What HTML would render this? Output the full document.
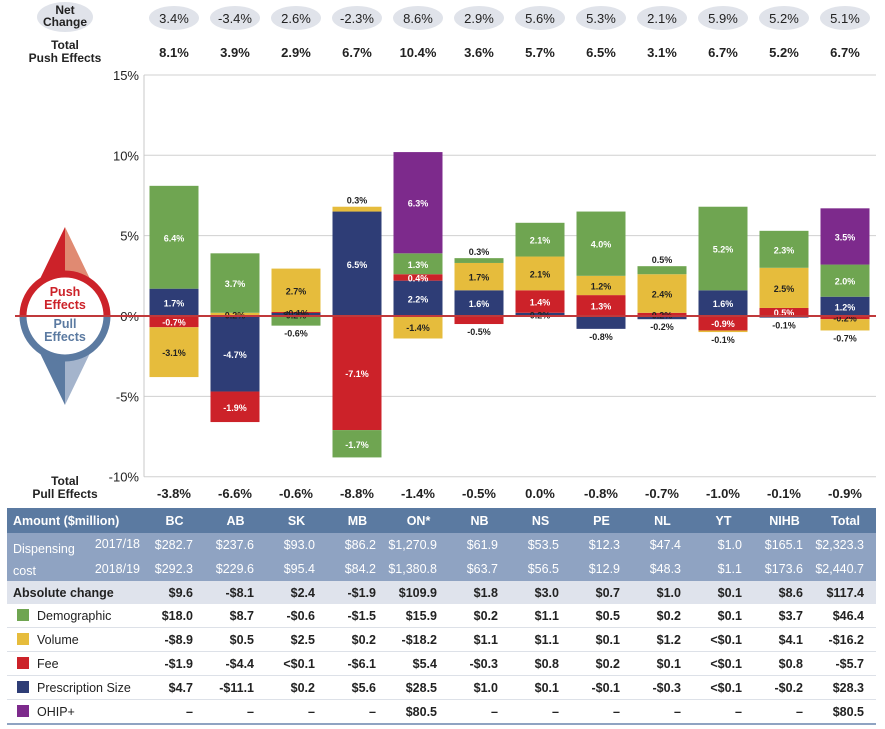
<!DOCTYPE html>
<html><head><meta charset="utf-8">
<style>
body{margin:0;width:885px;height:729px;background:#fff;font-family:"Liberation Sans",sans-serif;overflow:hidden;position:relative}
svg{position:absolute;left:0;top:0}
table{position:absolute;left:7px;top:508px;border-collapse:collapse;font-size:12.5px;table-layout:fixed}
td{padding:0;height:23px;text-align:right;padding-right:12px;color:#222;font-weight:bold}
td.l{text-align:left;padding-left:6px;font-weight:normal}
tr.h td{background:#5b7aa1;color:#fff;text-align:center;padding-right:0;height:25px}
tr.h td.l{text-align:left;font-weight:bold}
tr.d td{background:#8fa3c2;color:#fff;height:24px;font-weight:normal}
tr.a td{background:#dfe3ec}
tr.a td.l{font-weight:bold}
tr.r td{border-bottom:1px solid #dde1e8}
tr.last td{border-bottom:2px solid #8fa3c2}
.sw{display:inline-block;width:12px;height:12px;margin:0 8px 0 4px;vertical-align:-1px}
</style></head><body>
<svg id="chart" width="885" height="508"></svg>
<table>
<colgroup><col style="width:137px"><col span="12" style="width:61px"></colgroup>
<tr class="h"><td class="l">Amount ($million)</td><td>BC</td><td>AB</td><td>SK</td><td>MB</td><td>ON*</td><td>NB</td><td>NS</td><td>PE</td><td>NL</td><td>YT</td><td>NIHB</td><td>Total</td></tr>
<tr class="d"><td class="l" style="position:relative"><span style="position:absolute;left:6px;top:5px;line-height:22px">Dispensing<br>cost</span><span style="position:absolute;right:4px;top:4px">2017/18</span></td><td>$282.7</td><td>$237.6</td><td>$93.0</td><td>$86.2</td><td>$1,270.9</td><td>$61.9</td><td>$53.5</td><td>$12.3</td><td>$47.4</td><td>$1.0</td><td>$165.1</td><td>$2,323.3</td></tr>
<tr class="d"><td class="l" style="text-align:right;padding-right:4px">2018/19</td><td>$292.3</td><td>$229.6</td><td>$95.4</td><td>$84.2</td><td>$1,380.8</td><td>$63.7</td><td>$56.5</td><td>$12.9</td><td>$48.3</td><td>$1.1</td><td>$173.6</td><td>$2,440.7</td></tr>
<tr class="a"><td class="l">Absolute change</td><td>$9.6</td><td>-$8.1</td><td>$2.4</td><td>-$1.9</td><td>$109.9</td><td>$1.8</td><td>$3.0</td><td>$0.7</td><td>$1.0</td><td>$0.1</td><td>$8.6</td><td>$117.4</td></tr>
<tr class="r"><td class="l"><span class="sw" style="background:#6fa551"></span>Demographic</td><td>$18.0</td><td>$8.7</td><td>-$0.6</td><td>-$1.5</td><td>$15.9</td><td>$0.2</td><td>$1.1</td><td>$0.5</td><td>$0.2</td><td>$0.1</td><td>$3.7</td><td>$46.4</td></tr>
<tr class="r"><td class="l"><span class="sw" style="background:#e6bc3c"></span>Volume</td><td>-$8.9</td><td>$0.5</td><td>$2.5</td><td>$0.2</td><td>-$18.2</td><td>$1.1</td><td>$1.1</td><td>$0.1</td><td>$1.2</td><td>&lt;$0.1</td><td>$4.1</td><td>-$16.2</td></tr>
<tr class="r"><td class="l"><span class="sw" style="background:#cc2229"></span>Fee</td><td>-$1.9</td><td>-$4.4</td><td>&lt;$0.1</td><td>-$6.1</td><td>$5.4</td><td>-$0.3</td><td>$0.8</td><td>$0.2</td><td>$0.1</td><td>&lt;$0.1</td><td>$0.8</td><td>-$5.7</td></tr>
<tr class="r"><td class="l"><span class="sw" style="background:#2e3d76"></span>Prescription Size</td><td>$4.7</td><td>-$11.1</td><td>$0.2</td><td>$5.6</td><td>$28.5</td><td>$1.0</td><td>$0.1</td><td>-$0.1</td><td>-$0.3</td><td>&lt;$0.1</td><td>-$0.2</td><td>$28.3</td></tr>
<tr class="r last"><td class="l"><span class="sw" style="background:#7d2a8c"></span>OHIP+</td><td>–</td><td>–</td><td>–</td><td>–</td><td>$80.5</td><td>–</td><td>–</td><td>–</td><td>–</td><td>–</td><td>–</td><td>$80.5</td></tr>
</table>
<script>
const regions=["BC","AB","SK","MB","ON*","NB","NS","PE","NL","YT","NIHB","Total"];
const netChange=["3.4%","-3.4%","2.6%","-2.3%","8.6%","2.9%","5.6%","5.3%","2.1%","5.9%","5.2%","5.1%"];
const pushTotals=["8.1%","3.9%","2.9%","6.7%","10.4%","3.6%","5.7%","6.5%","3.1%","6.7%","5.2%","6.7%"];
const pullTotals=["-3.8%","-6.6%","-0.6%","-8.8%","-1.4%","-0.5%","0.0%","-0.8%","-0.7%","-1.0%","-0.1%","-0.9%"];
const demographic=[6.4,3.7,-0.6,-1.7,1.3,0.3,2.1,4.0,0.5,5.2,2.3,2.0];
const volume=[-3.1,0.2,2.7,0.3,-1.4,1.7,2.1,1.2,2.4,-0.1,2.5,-0.7];
const fee=[-0.7,-1.9,0.05,-7.1,0.4,-0.5,1.4,1.3,0.2,-0.9,0.5,-0.2];
const prescription=[1.7,-4.7,0.2,6.5,2.2,1.6,0.2,-0.8,-0.2,1.6,-0.1,1.2];
const ohip=[0,0,0,0,6.3,0,0,0,0,0,0,3.5];
const yTicks=[15,10,5,0,-5,-10];

const NS="http://www.w3.org/2000/svg";
const svg=document.getElementById('chart');
function y(v){return 316-v*16.07;}
function x(i){return 174+i*61;}
function mk(t,a,p){const e=document.createElementNS(NS,t);for(const k in a)e.setAttribute(k,a[k]);(p||svg).appendChild(e);return e;}
function txt(s,a){const e=mk('text',a);e.textContent=s;return e;}
yTicks.forEach(t=>{
  if(t!==0){const g=mk('line',{x1:144,x2:876,y1:y(t),y2:y(t),stroke:'#d0d0d0','stroke-width':1});
  
  }
  const l=txt(t+'%',{x:139,y:y(t)+5,'text-anchor':'end','font-size':13,fill:'#222'});
  
  
});
const ax=mk('line',{x1:144,x2:144,y1:y(15),y2:y(-10),stroke:'#c8c8c8','stroke-width':1});


const series=[
 {n:'prescription',v:prescription,c:'#2e3d76',t:'#fff'},
 {n:'fee',v:fee,c:'#cc2229',t:'#fff'},
 {n:'volume',v:volume,c:'#e6bc3c',t:'#222'},
 {n:'demographic',v:demographic,c:'#6fa551',t:'#fff'},
 {n:'ohip',v:ohip,c:'#7d2a8c',t:'#fff'}];
regions.forEach((r,i)=>{
  let pos=0,neg=0;const bw=49,cx=x(i);
  const segs=[];
  series.forEach(s=>{
    const v=s.v[i];if(!v)return;
    let a,b;
    if(v>0){a=pos;b=pos+v;pos=b;}else{a=neg;b=neg+v;neg=b;}
    const top=y(Math.max(a,b)),h=Math.abs(y(a)-y(b));
    const rc=mk('rect',{x:cx-bw/2,y:top,width:bw,height:Math.max(h,1),fill:s.c});
    
    
    segs.push({v,top,h,s});
  });
  segs.forEach(g=>{
    const lab=(Math.abs(g.v)<0.1?'<0.1':g.v.toFixed(1))+'%';
    let ty,fill=g.s.t;
    if(g.h>=13){ty=g.top+g.h/2+4;}
    else{fill='#222';
      if(g.v>0){ty=(Math.abs(g.top-y(pos))<1)?g.top-3:g.top+g.h/2+4;}
      else{ty=(Math.abs(g.top+g.h-y(neg))<1)?g.top+g.h+11:g.top+g.h/2+4;}
      if(g.h>=6)fill=g.s.t;if(ty<g.top||ty>g.top+g.h+2)fill='#222';}
    const t=txt(lab,{x:cx,y:ty,'text-anchor':'middle','font-size':9,fill:fill,'font-weight':'bold'});
    
    
  });
  const pl=mk('ellipse',{cx:cx,cy:18,rx:25,ry:12,fill:'#e0e3ea'});
  
  
  const nt=txt(netChange[i],{x:cx,y:23,'text-anchor':'middle','font-size':13,fill:'#222'});
  
  
  const pt=txt(pushTotals[i],{x:cx,y:57,'text-anchor':'middle','font-size':13,'font-weight':'bold',fill:'#222'});
  
  
  const qt=txt(pullTotals[i],{x:cx,y:498,'text-anchor':'middle','font-size':13,'font-weight':'bold',fill:'#222'});
  
  
});
const lp=mk('ellipse',{cx:65,cy:17,rx:28,ry:15,fill:'#e0e3ea'});


[['Net',14],['Change',26]].forEach(a=>{const t=txt(a[0],{x:65,y:a[1],'text-anchor':'middle','font-size':12,'font-weight':'bold',fill:'#222'});});
[['Total',49,65],['Push Effects',62,65],['Total',485,65],['Pull Effects',498,65]].forEach(a=>{const t=txt(a[0],{x:a[2],y:a[1],'text-anchor':'middle','font-size':12,'font-weight':'bold',fill:'#222'});});
const cg=mk('g',{});


mk('polygon',{points:'65,227 38,283 65,283',fill:'#cc2229'},cg);
mk('polygon',{points:'65,227 92,283 65,283',fill:'#e08a72'},cg);
mk('polygon',{points:'65,405 38,349 65,349',fill:'#5b7aa1'},cg);
mk('polygon',{points:'65,405 92,349 65,349',fill:'#a4b4cc'},cg);
mk('path',{d:'M23,316 A42,42 0 0 1 107,316',fill:'#fff',stroke:'#cc2229','stroke-width':7},cg);
mk('path',{d:'M23,316 A42,42 0 0 0 107,316',fill:'#fff',stroke:'#5b7aa1','stroke-width':7},cg);
[['Push',296,'#cc2229'],['Effects',309,'#cc2229'],['Pull',328,'#5b7aa1'],['Effects',341,'#5b7aa1']].forEach(a=>{const t=txt(a[0],{x:65,y:a[1],'text-anchor':'middle','font-size':12.5,'font-weight':'bold',fill:a[2]});});
const zl=mk('line',{x1:15,x2:876,y1:y(0),y2:y(0),stroke:'#c0393b','stroke-width':2});


</script>
</body></html>
